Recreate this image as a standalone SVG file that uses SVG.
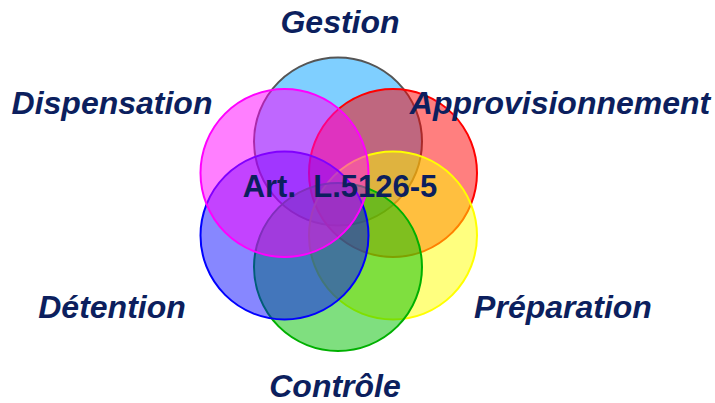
<svg xmlns="http://www.w3.org/2000/svg" width="715" height="403" viewBox="0 0 715 403">
<style>
.c{stroke-width:2}
.lbl{font-family:"Liberation Sans",Arial,sans-serif;font-weight:bold;font-style:italic;font-size:32px;fill:#0C1F5E}
.ctr{font-family:"Liberation Sans",Arial,sans-serif;font-weight:bold;font-size:31px;fill:#0C1F5E}
</style>
<rect width="715" height="403" fill="#fff"/>
<g id="gestion"><circle class="c" cx="338" cy="141.5" r="84" fill="#00A0FF" fill-opacity="0.5" stroke="#555"/></g>
<g id="approvisionnement"><circle class="c" cx="393" cy="173" r="84" fill="#FF0000" fill-opacity="0.5" stroke="#FF0000"/></g>
<g id="preparation"><circle class="c" cx="393" cy="235.5" r="84" fill="#FFFF00" fill-opacity="0.5" stroke="#FFFF00"/></g>
<g id="controle"><circle class="c" cx="338" cy="267" r="84" fill="#00C000" fill-opacity="0.5" stroke="#00B000"/></g>
<g id="detention"><circle class="c" cx="284.5" cy="235.5" r="84" fill="#0000FF" fill-opacity="0.47" stroke="#0000FF"/></g>
<g id="dispensation"><circle class="c" cx="284.5" cy="173" r="84" fill="#FF00FF" fill-opacity="0.5" stroke="#FF00FF"/></g>
<g id="labels">
<text class="lbl" x="340" y="33" text-anchor="middle">Gestion</text>
<text class="lbl" x="112" y="114" text-anchor="middle">Dispensation</text>
<text class="lbl" x="560" y="114" text-anchor="middle">Approvisionnement</text>
<text class="lbl" x="112" y="318" text-anchor="middle">Détention</text>
<text class="lbl" x="563" y="318" text-anchor="middle">Préparation</text>
<text class="lbl" x="335" y="397" text-anchor="middle">Contrôle</text>
<text class="ctr" x="340" y="197" text-anchor="middle" xml:space="preserve">Art.  L.5126-5</text>
</g>
<g id="connectors"/>
</svg>
